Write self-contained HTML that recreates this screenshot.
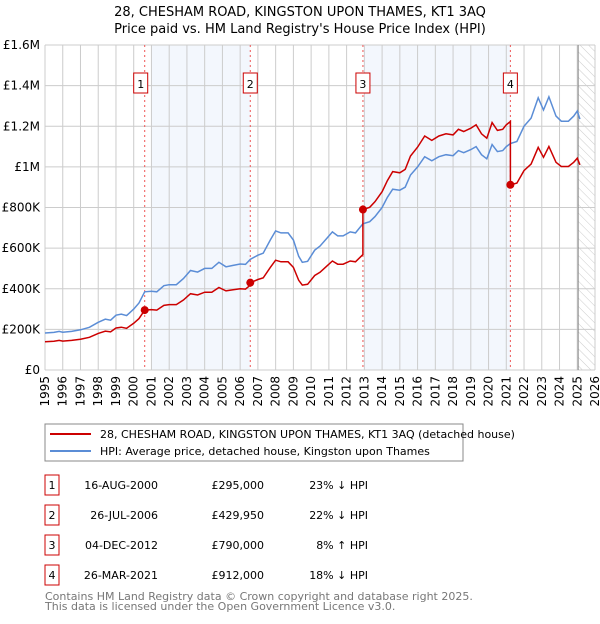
<!DOCTYPE html>
<html><head><meta charset="utf-8"><style>
body{margin:0;background:#fff;font-family:"DejaVu Sans","Liberation Sans",sans-serif;}
svg text{font-family:"DejaVu Sans","Liberation Sans",sans-serif;}
</style></head><body>
<svg id="c" width="600" height="620" xmlns="http://www.w3.org/2000/svg">
<defs><pattern id="hatch" width="6" height="6" patternUnits="userSpaceOnUse" patternTransform="rotate(-45)"><line x1="0" y1="0" x2="0" y2="6" stroke="#ccc" stroke-width="1"/></pattern></defs>
<text x="300" y="16" text-anchor="middle" font-size="13">28, CHESHAM ROAD, KINGSTON UPON THAMES, KT1 3AQ</text>
<text x="300" y="33" text-anchor="middle" font-size="13">Price paid vs. HM Land Registry's House Price Index (HPI)</text>
<g id="plot"></g>
<rect x="45" y="424" width="418" height="37" fill="#fff" stroke="#888"/>
<line x1="50" y1="434" x2="91" y2="434" stroke="#cc0000" stroke-width="2"/>
<text x="100" y="438" font-size="11">28, CHESHAM ROAD, KINGSTON UPON THAMES, KT1 3AQ (detached house)</text>
<line x1="50" y1="451" x2="91" y2="451" stroke="#5b8dd6" stroke-width="2"/>
<text x="100" y="455" font-size="11">HPI: Average price, detached house, Kingston upon Thames</text>
<g id="table"></g>
<text x="45" y="600" font-size="11" fill="#777">Contains HM Land Registry data © Crown copyright and database right 2025.</text>
<text x="45" y="610" font-size="11" fill="#777">This data is licensed under the Open Government Licence v3.0.</text>
</svg>
<script>
const hpiT=[1995.0,1995.5,1995.8,1996.0,1996.5,1997.0,1997.5,1998.0,1998.4,1998.7,1999.0,1999.3,1999.6,2000.0,2000.3,2000.62,2001.0,2001.3,2001.7,2002.0,2002.4,2002.8,2003.2,2003.6,2004.0,2004.4,2004.8,2005.2,2005.6,2006.0,2006.3,2006.57,2007.0,2007.3,2007.7,2008.0,2008.3,2008.7,2009.0,2009.3,2009.5,2009.8,2010.2,2010.5,2010.9,2011.2,2011.5,2011.8,2012.2,2012.5,2012.92,2013.3,2013.6,2014.0,2014.3,2014.6,2015.0,2015.3,2015.6,2016.0,2016.4,2016.8,2017.2,2017.6,2018.0,2018.3,2018.6,2019.0,2019.3,2019.6,2019.9,2020.2,2020.5,2020.8,2021.0,2021.23,2021.6,2022.0,2022.4,2022.8,2023.1,2023.4,2023.8,2024.1,2024.5,2024.8,2025.0,2025.15];
const hpiV=[182,185,190,186,190,198,210,235,250,245,270,275,268,300,330,385,388,385,415,420,420,450,490,482,500,500,530,508,515,522,520,545,565,575,640,685,675,675,640,560,530,535,590,610,650,680,660,660,680,675,720,730,755,800,850,890,885,900,960,1000,1050,1030,1050,1060,1055,1080,1070,1085,1100,1060,1040,1110,1075,1080,1100,1115,1125,1200,1240,1340,1280,1345,1250,1225,1225,1250,1275,1235];
const saleT=[2000.62,2006.57,2012.92,2021.23];
const saleV=[295,429.95,790,912];
const saleLabels=["1","2","3","4"];
const saleDates=["16-AUG-2000","26-JUL-2006","04-DEC-2012","26-MAR-2021"];
const salePrices=["£295,000","£429,950","£790,000","£912,000"];
const salePct=["23% ↓ HPI","22% ↓ HPI","8% ↑ HPI","18% ↓ HPI"];
const yTicks=[0,200,400,600,800,1000,1200,1400,1600];
const yTickLabels=["£0","£200K","£400K","£600K","£800K","£1M","£1.2M","£1.4M","£1.6M"];
const xYears=[1995,1996,1997,1998,1999,2000,2001,2002,2003,2004,2005,2006,2007,2008,2009,2010,2011,2012,2013,2014,2015,2016,2017,2018,2019,2020,2021,2022,2023,2024,2025,2026];

const X0=45,X1=595,Y0=370,Y1=45;
const x=t=>X0+(t-1995)/(2026-1995)*(X1-X0);
const y=v=>Y0-v/1600*(Y0-Y1);
const NS="http://www.w3.org/2000/svg";
function mk(tag,attrs,parent){const e=document.createElementNS(NS,tag);for(const k in attrs)e.setAttribute(k,attrs[k]);parent.appendChild(e);return e;}
const P=document.getElementById('plot');
function hpiAt(t){for(let i=0;i<hpiT.length-1;i++){if(t<=hpiT[i+1]){const f=(t-hpiT[i])/(hpiT[i+1]-hpiT[i]);return hpiV[i]+f*(hpiV[i+1]-hpiV[i]);}}return hpiV[hpiV.length-1];}

// shading
let s1=mk('rect',{x:x(2001),y:Y1,width:x(saleT[1])-x(2001),height:Y0-Y1,fill:'#eef3fc',opacity:0.7},P);


let s2=mk('rect',{x:x(2013),y:Y1,width:x(saleT[3])-x(2013),height:Y0-Y1,fill:'#eef3fc',opacity:0.7},P);


let ht=mk('rect',{x:x(2025.05),y:Y1,width:X1-x(2025.05),height:Y0-Y1,fill:'url(#hatch)'},P);


// grid
xYears.forEach((yr,i)=>{
 let l=mk('line',{x1:x(yr),x2:x(yr),y1:Y1,y2:Y0,stroke:'#ccc','stroke-width':1},P);
 
 
 let tx=mk('text',{x:0,y:0,'font-size':12,'text-anchor':'end',transform:`translate(${x(yr)+4},${Y0+6}) rotate(-90)`},P);
 tx.textContent=yr;
 
 
});
yTicks.forEach((v,i)=>{
 let l=mk('line',{x1:X0,x2:X1,y1:y(v),y2:y(v),stroke:'#ccc','stroke-width':1},P);
 
 
 let tx=mk('text',{x:40,y:y(v)+4,'font-size':12,'text-anchor':'end'},P);
 tx.textContent=yTickLabels[i];
 
 
});
let nl=mk('line',{x1:x(2025.05),x2:x(2025.05),y1:Y1,y2:Y0,stroke:'#888','stroke-width':1},P);


// sale vlines & labels
saleT.forEach((t,i)=>{
 let l=mk('line',{x1:x(t),x2:x(t),y1:Y1,y2:Y0,stroke:'#e55','stroke-width':1,'stroke-dasharray':'2,3'},P);
 
 
 let r=mk('rect',{x:x(t)-7-(i==0?4:0),y:73,width:14,height:20,fill:'#fff',stroke:'#cc0000'},P);
 
 
 let tx=mk('text',{x:x(t)-(i==0?4:0),y:88,'font-size':11,'text-anchor':'middle'},P);
 tx.textContent=saleLabels[i];
 
 
});
// hpi line
let d=hpiT.map((t,i)=>(i?'L':'M')+x(t).toFixed(1)+','+y(hpiV[i]).toFixed(1)).join('');
let hl=mk('path',{d:d,fill:'none',stroke:'#5b8dd6','stroke-width':1.5},P);


// property line: hpi indexed from latest sale
function ratioAt(t){let k=-1;for(let i=0;i<saleT.length;i++)if(t>=saleT[i])k=i;const j=Math.max(k,0);return saleV[j]/hpiAt(saleT[j]);}
let rd='';
hpiT.forEach((t,i)=>{
 const si=saleT.findIndex((s,j)=>j>0&&i>0&&hpiT[i-1]<s&&t>=s);
 if(si>0){const s=saleT[si];rd+='L'+x(s).toFixed(1)+','+y(hpiAt(s)*saleV[si-1]/hpiAt(saleT[si-1])).toFixed(1)+'L'+x(s).toFixed(1)+','+y(saleV[si]).toFixed(1);}
 rd+=(i?'L':'M')+x(t).toFixed(1)+','+y(hpiV[i]*ratioAt(t)).toFixed(1);
});
let pl=mk('path',{d:rd,fill:'none',stroke:'#cc0000','stroke-width':1.5},P);


saleT.forEach((t,i)=>{
 let c=mk('circle',{cx:x(t),cy:y(saleV[i]),r:4,fill:'#cc0000'},P);
 
 
});
// table
const T=document.getElementById('table');
saleT.forEach((t,i)=>{
 const yy=475+i*30;
 let r=mk('rect',{x:45,y:yy,width:14,height:20,fill:'#fff',stroke:'#cc0000'},T);
 
 
 const items=[[52,'middle',saleLabels[i],'table-number'],[158,'end',saleDates[i],'table-date'],[264,'end',salePrices[i],'table-price'],[368,'end',salePct[i],'table-hpi-diff']];
 items.forEach(it=>{
  let tx=mk('text',{x:it[0],y:yy+14,'font-size':11,'text-anchor':it[1]},T);
  tx.textContent=it[2];
  
  
 });
});
</script>
</body></html>
